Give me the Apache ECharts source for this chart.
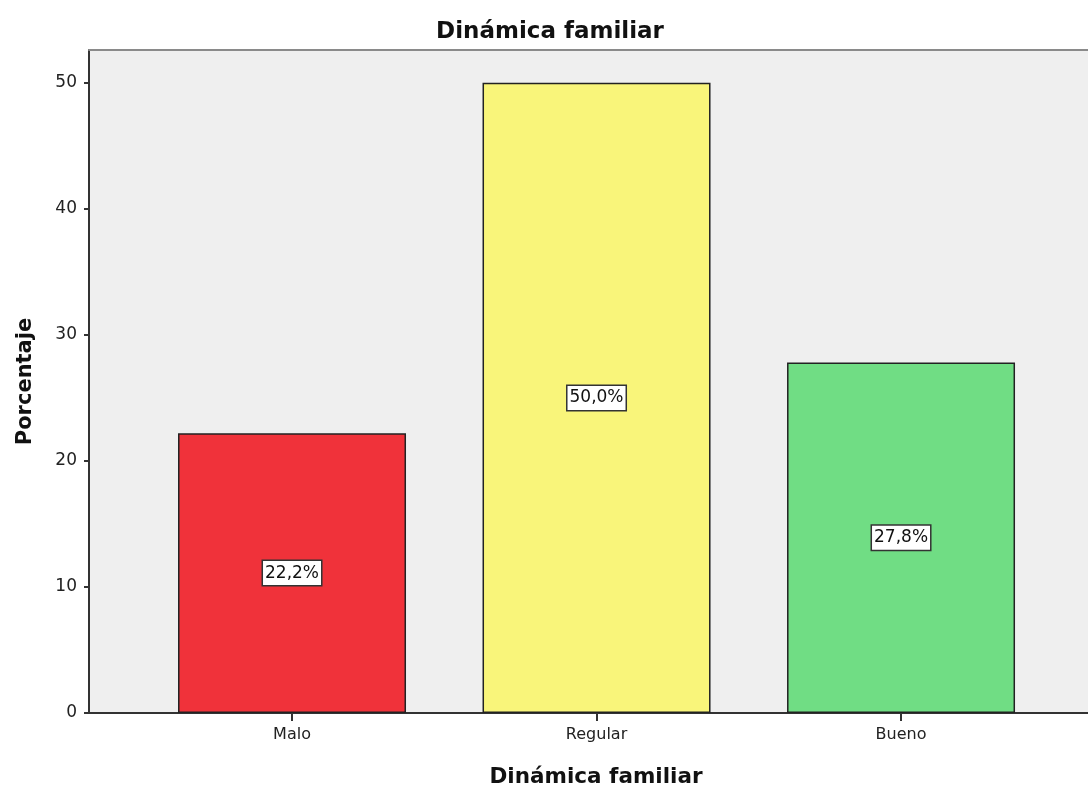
<!DOCTYPE html>
<html>
<head>
<meta charset="utf-8">
<script src="https://cdn.jsdelivr.net/npm/echarts@6/dist/echarts.min.js"></script>
<style>html,body{margin:0;padding:0;background:#fff}#c{width:1088px;height:785px}</style>
</head>
<body>
<div id="c"></div>
<script>
var categories = ['Malo', 'Regular', 'Bueno'];
var percentages = [22.2, 50.0, 27.8];
var barColors = ['#F0323A', '#F9F57A', '#70DD84'];
var yTicks = [0, 10, 20, 30, 40, 50];

var chart = echarts.init(document.getElementById('c'));
var font = '"DejaVu Sans", Verdana, sans-serif';
var data = percentages.map(function (v, i) {
  return { value: [i, v], itemStyle: { color: barColors[i] } };
});
chart.setOption({
  animation: false,
  title: [
    { text: 'Dinámica familiar', left: 545, top: 16, textAlign: 'center',
      textStyle: { fontFamily: font, fontSize: 23, fontWeight: 'bold', color: '#111' } },
    { text: 'Dinámica familiar', left: 591, top: 761, textAlign: 'center',
      textStyle: { fontFamily: font, fontSize: 21.5, fontWeight: 'bold', color: '#111' } }
  ],
  grid: { left: 89, right: 0, top: 50, bottom: 72, show: true, backgroundColor: '#EFEFEF', borderWidth: 0 },
  xAxis: [{
    type: 'value', min: -0.6667, max: 2.614,
    splitLine: { show: false },
    axisLine: { show: true, onZero: false, lineStyle: { color: '#333', width: 2 } },
    axisTick: { show: true, customValues: [0, 1, 2], length: 8, lineStyle: { color: '#333', width: 2 } },
    axisLabel: { customValues: [0, 1, 2], margin: 14, fontFamily: font, fontSize: 16, color: '#222',
      formatter: function (v) { return categories[Math.round(v)] || ''; } }
  }, {
    type: 'value', position: 'top', min: -0.6667, max: 2.614,
    splitLine: { show: false },
    axisLine: { show: true, onZero: false, lineStyle: { color: '#8a8a8a', width: 2 } },
    axisTick: { show: false }, axisLabel: { show: false }
  }],
  yAxis: {
    type: 'value', min: 0, max: 52.6, interval: 10,
    name: 'Porcentaje', nameLocation: 'middle', nameRotate: 90, nameGap: 53,
    nameTextStyle: { fontFamily: font, fontSize: 21, fontWeight: 'bold', color: '#111' },
    splitLine: { show: false },
    axisLine: { show: true, onZero: false, lineStyle: { color: '#333', width: 2 } },
    axisTick: { show: true, length: 5, customValues: yTicks, lineStyle: { color: '#333', width: 2 } },
    axisLabel: { margin: 12, fontFamily: font, fontSize: 17, color: '#222',
      customValues: yTicks }
  },
  series: [{
    type: 'bar', xAxisIndex: 0, barWidth: 228,
    data: data,
    itemStyle: { borderColor: '#222', borderWidth: 1.5 },
    label: {
      show: true, position: 'inside', fontFamily: font, fontSize: 17, color: '#111',
      backgroundColor: '#fff', borderColor: '#333', borderWidth: 1.5, padding: [4, 2, 3, 2],
      formatter: function (p) { return p.value[1].toFixed(1).replace('.', ',') + '%'; }
    }
  }]
});
</script>
</body>
</html>
